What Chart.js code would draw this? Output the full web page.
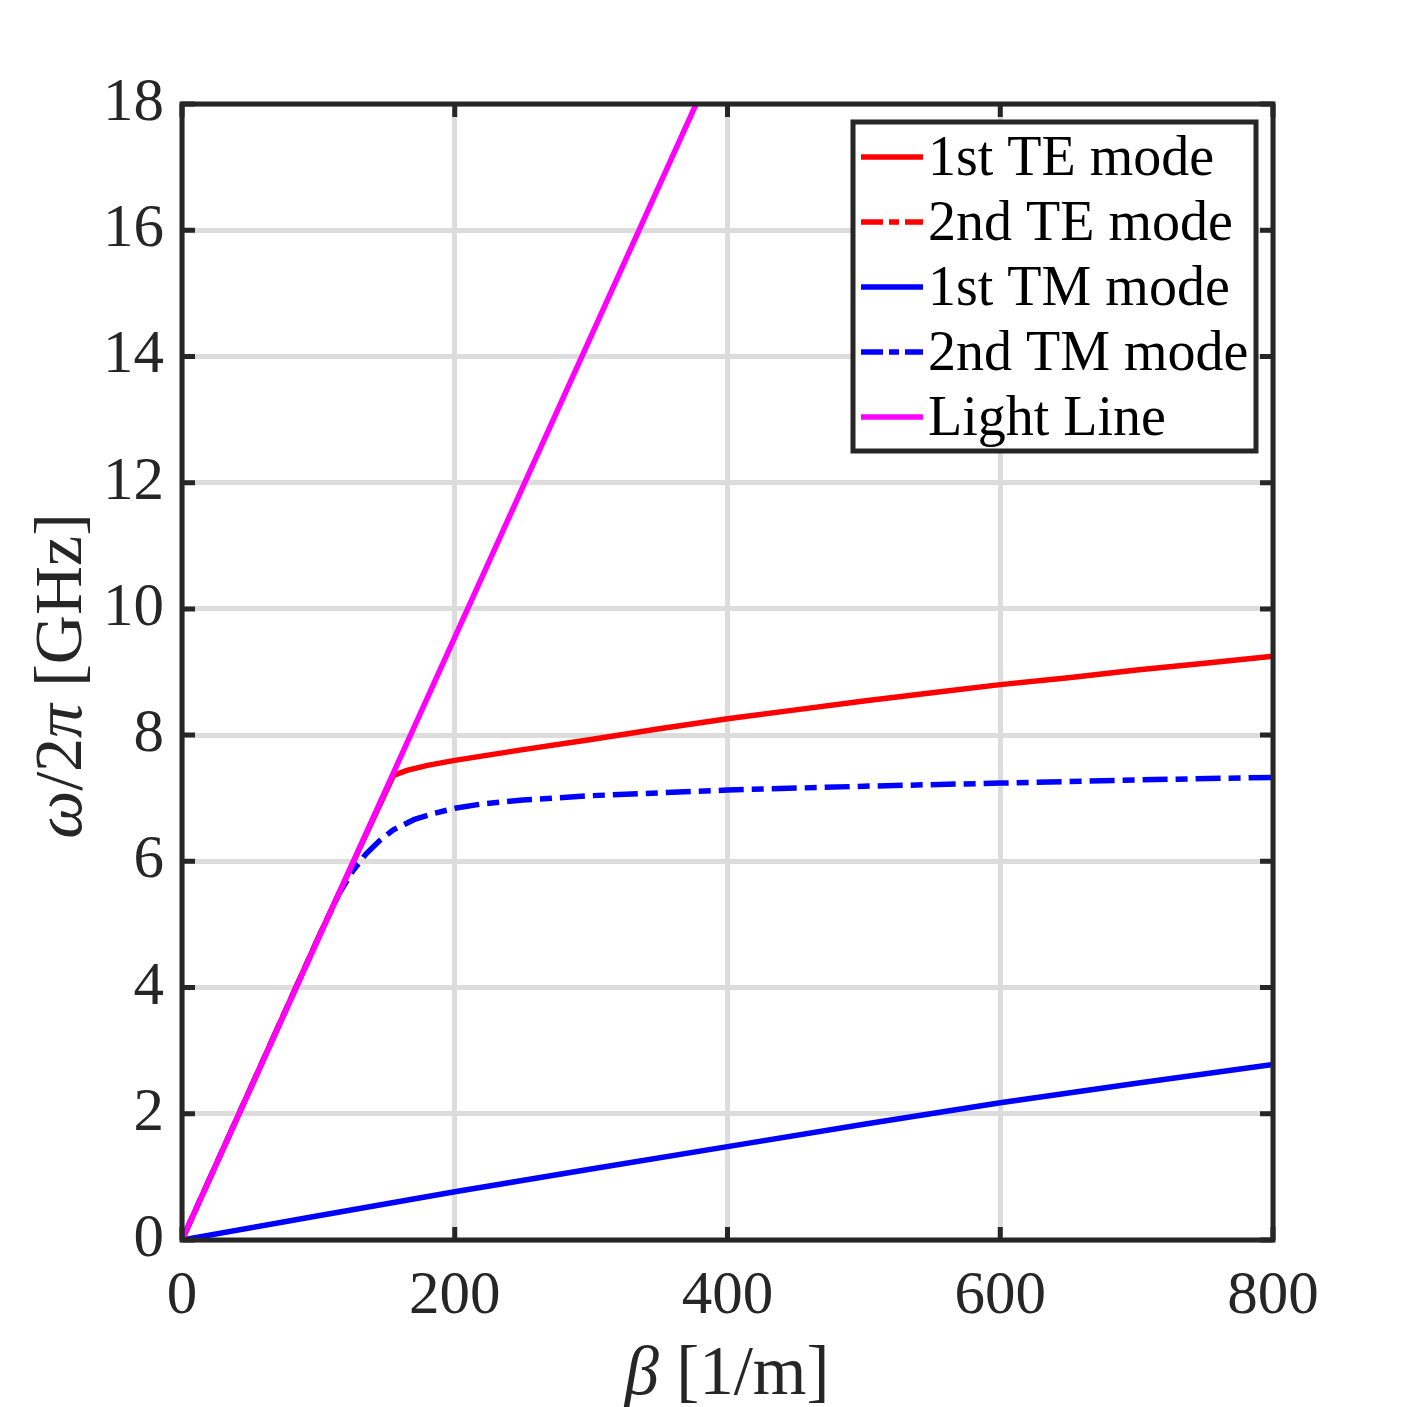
<!DOCTYPE html>
<html>
<head>
<meta charset="utf-8">
<script src="https://cdn.jsdelivr.net/npm/chart.js@4"></script>
<style>
  html, body { margin: 0; padding: 0; background: #fff; }
  #wrap { width: 1407px; height: 1407px; }
</style>
</head>
<body>
<div id="wrap"><canvas id="dispChart" width="1407" height="1407"></canvas></div>
<script>
// data: beta [1/m] and f [GHz]
var lightBeta = [0, 377];
var lightFreq = [0, 18];

var te1Beta = [0, 100, 155, 165, 180, 200, 250, 300, 350, 400, 450, 500, 550, 600, 650, 700, 750, 800];
var te1Freq = [0, 4.79, 7.36, 7.44, 7.52, 7.6, 7.77, 7.93, 8.1, 8.26, 8.4, 8.54, 8.67, 8.8, 8.91, 9.03, 9.14, 9.25];

// 2nd TE mode is not visible in the picture, only in the legend
var te2Beta = [];
var te2Freq = [];

var tm1Beta = [0, 100, 200, 300, 400, 500, 600, 700, 800];
var tm1Freq = [0, 0.385, 0.765, 1.125, 1.48, 1.835, 2.175, 2.485, 2.78];

var tm2Beta = [0, 100, 115, 125, 135, 145, 155, 170, 185, 200, 220, 250, 300, 400, 500, 600, 700, 800];
var tm2Freq = [0, 4.79, 5.48, 5.84, 6.12, 6.33, 6.5, 6.66, 6.76, 6.84, 6.91, 6.97, 7.04, 7.13, 7.19, 7.24, 7.29, 7.33];

var xTicks = [0, 200, 400, 600, 800];
var yTicks = [0, 2, 4, 6, 8, 10, 12, 14, 16, 18];

function toPoints(xs, ys) {
    var pts = [];
    for (var i = 0; i < xs.length; i++) {
        pts.push({ x: xs[i], y: ys[i] });
    }
    return pts;
}

var axisColor = '#262626';
var fontFam = '"Liberation Serif", "Times New Roman", serif';
var dashDot = [25, 8, 12, 8];

function lineSet(label, xs, ys, color, dash, order) {
    return {
        label: label,
        data: toPoints(xs, ys),
        borderColor: color,
        backgroundColor: color,
        borderWidth: 5.5,
        borderDash: dash,
        pointRadius: 0,
        showLine: true,
        fill: false,
        tension: 0,
        order: order
    };
}

// frame + inward ticks on all 4 sides (box on)
var framePlugin = {
    id: 'frame',
    afterDatasetsDraw: function(chart) {
        var c = chart.ctx, a = chart.chartArea;
        var xs = chart.scales.x, ys = chart.scales.y;
        c.save();
        c.strokeStyle = axisColor;
        c.lineWidth = 5;
        c.strokeRect(a.left, a.top, a.right - a.left, a.bottom - a.top);
        var tl = 13;
        c.beginPath();
        xTicks.forEach(function(v) {
            var px = xs.getPixelForValue(v);
            c.moveTo(px, a.bottom); c.lineTo(px, a.bottom - tl);
            c.moveTo(px, a.top); c.lineTo(px, a.top + tl);
        });
        yTicks.forEach(function(v) {
            var py = ys.getPixelForValue(v);
            c.moveTo(a.left, py); c.lineTo(a.left + tl, py);
            c.moveTo(a.right, py); c.lineTo(a.right - tl, py);
        });
        c.stroke();
        c.restore();
    }
};

// boxed legend inside the plot, top right
var legendPlugin = {
    id: 'boxLegend',
    afterDraw: function(chart) {
        var c = chart.ctx;
        var bx = 853, by = 122, bw = 403, bh = 329;
        c.save();
        c.fillStyle = '#ffffff';
        c.fillRect(bx, by, bw, bh);
        c.strokeStyle = axisColor;
        c.lineWidth = 5;
        c.strokeRect(bx, by, bw, bh);
        c.font = '56px ' + fontFam;
        c.textBaseline = 'middle';
        c.textAlign = 'left';
        chart.data.datasets.forEach(function(ds, i) {
            var y = 157 + i * 65;
            c.strokeStyle = ds.borderColor;
            c.lineWidth = 5.5;
            c.setLineDash(ds.borderDash.length ? [22, 6, 10, 6] : []);
            c.beginPath();
            c.moveTo(861, y);
            c.lineTo(923, y);
            c.stroke();
            c.setLineDash([]);
            c.fillStyle = '#000000';
            c.fillText(ds.label, 928, y + 3);
        });
        c.restore();
    }
};

// axis titles with italic greek letters
function drawParts(c, parts, cx, cy, size) {
    var total = 0;
    parts.forEach(function(p) {
        c.font = (p[1] ? 'italic ' : '') + size + 'px ' + fontFam;
        total += c.measureText(p[0]).width;
    });
    var x = cx - total / 2;
    parts.forEach(function(p) {
        c.font = (p[1] ? 'italic ' : '') + size + 'px ' + fontFam;
        c.fillText(p[0], x, cy);
        x += c.measureText(p[0]).width;
    });
}

var titlePlugin = {
    id: 'axisTitles',
    afterDraw: function(chart) {
        var c = chart.ctx;
        c.save();
        c.fillStyle = axisColor;
        c.textBaseline = 'middle';
        c.textAlign = 'left';
        drawParts(c, [['β', true], [' [1/m]', false]], 727, 1376, 69);
        c.translate(63, 676);
        c.rotate(-Math.PI / 2);
        drawParts(c, [['ω', true], ['/2', false], ['π', true], [' [GHz]', false]], 0, 0, 68);
        c.restore();
    }
};

var ctx = document.getElementById('dispChart').getContext('2d');

var dispChart = new Chart(ctx, {
    type: 'scatter',
    data: {
        datasets: [
            lineSet('1st TE mode', te1Beta, te1Freq, '#ff0000', [], 1),
            lineSet('2nd TE mode', te2Beta, te2Freq, '#ff0000', dashDot, 1),
            lineSet('1st TM mode', tm1Beta, tm1Freq, '#0000ff', [], 1),
            lineSet('2nd TM mode', tm2Beta, tm2Freq, '#0000ff', dashDot, 1),
            lineSet('Light Line', lightBeta, lightFreq, '#ff00ff', [], 0)
        ]
    },
    options: {
        responsive: false,
        animation: false,
        layout: { padding: { left: 0, right: 134, top: 104, bottom: 0 } },
        plugins: {
            legend: { display: false },
            tooltip: { enabled: false }
        },
        scales: {
            x: {
                type: 'linear',
                min: 0,
                max: 800,
                afterFit: function(s) { s.height = 167; },
                afterBuildTicks: function(s) {
                    s.ticks = xTicks.map(function(v) { return { value: v }; });
                },
                grid: { color: '#dcdcdc', lineWidth: 5, drawTicks: false },
                border: { display: false },
                ticks: {
                    color: axisColor,
                    padding: 20,
                    maxRotation: 0,
                    font: { family: fontFam, size: 61 }
                }
            },
            y: {
                type: 'linear',
                min: 0,
                max: 18,
                afterFit: function(s) { s.width = 182; },
                afterBuildTicks: function(s) {
                    s.ticks = yTicks.map(function(v) { return { value: v }; });
                },
                grid: { color: '#dcdcdc', lineWidth: 5, drawTicks: false },
                border: { display: false },
                ticks: {
                    color: axisColor,
                    padding: 18,
                    font: { family: fontFam, size: 61 }
                }
            }
        }
    },
    plugins: [framePlugin, legendPlugin, titlePlugin]
});
</script>
</body>
</html>
